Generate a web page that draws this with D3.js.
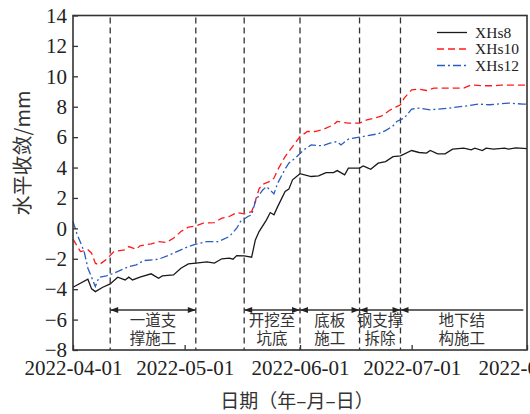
<!DOCTYPE html>
<html>
<head>
<meta charset="utf-8">
<script src="https://cdn.jsdelivr.net/npm/d3@7"></script>
<style>
  body { margin: 0; background: #fff; }
  svg { display: block; }
  .tick text { font-family: "Liberation Serif", "Times New Roman", serif; font-size: 21px; fill: #222; }
  .cn { font-family: "Noto Sans CJK SC", sans-serif; fill: #333; }
</style>
</head>
<body>
<div id="chart"></div>
<script>
// monitoring data
var dates8 = ["2022-04-01","2022-04-05","2022-04-06","2022-04-07","2022-04-09","2022-04-11","2022-04-13","2022-04-15","2022-04-16","2022-04-17","2022-04-19","2022-04-22","2022-04-24","2022-04-25","2022-04-28","2022-04-30","2022-05-02","2022-05-04","2022-05-07","2022-05-09","2022-05-11","2022-05-13","2022-05-14","2022-05-15","2022-05-17","2022-05-19","2022-05-20","2022-05-21","2022-05-23","2022-05-24","2022-05-25","2022-05-26","2022-05-28","2022-05-29","2022-05-30","2022-06-01","2022-06-04","2022-06-06","2022-06-08","2022-06-10","2022-06-11","2022-06-13","2022-06-14","2022-06-17","2022-06-18","2022-06-19","2022-06-20","2022-06-22","2022-06-24","2022-06-26","2022-06-28","2022-07-01","2022-07-03","2022-07-05","2022-07-06","2022-07-08","2022-07-10","2022-07-12","2022-07-15","2022-07-17","2022-07-18","2022-07-20","2022-07-21","2022-07-23","2022-07-26","2022-07-27","2022-07-29","2022-08-01"];
var values8 = [-3.87,-3.34,-3.98,-4.16,-3.87,-3.65,-3.21,-3.39,-3.21,-3.39,-3.21,-2.99,-3.28,-3.13,-3.06,-2.62,-2.34,-2.29,-2.2,-2.29,-2.0,-1.96,-2.03,-1.79,-1.81,-1.9,-0.76,-0.21,0.56,1.04,0.89,1.43,2.42,2.58,3.19,3.6,3.41,3.45,3.67,3.67,3.8,3.52,3.96,3.96,4.11,4.0,3.89,4.29,4.39,4.72,4.77,5.12,4.99,4.95,5.12,4.9,4.9,5.21,5.28,5.16,5.28,5.12,5.28,5.21,5.28,5.21,5.3,5.25];

var dates10 = ["2022-04-01","2022-04-03","2022-04-05","2022-04-06","2022-04-07","2022-04-08","2022-04-10","2022-04-12","2022-04-15","2022-04-16","2022-04-18","2022-04-19","2022-04-22","2022-04-24","2022-04-26","2022-04-28","2022-04-30","2022-05-02","2022-05-04","2022-05-06","2022-05-09","2022-05-11","2022-05-13","2022-05-15","2022-05-17","2022-05-19","2022-05-20","2022-05-21","2022-05-22","2022-05-24","2022-05-25","2022-05-26","2022-05-28","2022-05-30","2022-06-01","2022-06-03","2022-06-05","2022-06-07","2022-06-10","2022-06-11","2022-06-14","2022-06-17","2022-06-19","2022-06-21","2022-06-23","2022-06-25","2022-06-27","2022-06-28","2022-06-29","2022-07-01","2022-07-03","2022-07-05","2022-07-07","2022-07-10","2022-07-12","2022-07-15","2022-07-17","2022-07-20","2022-07-23","2022-07-25","2022-07-28","2022-07-31","2022-08-01"];
var values10 = [-0.71,-1.53,-1.41,-1.63,-2.29,-2.4,-2.03,-1.53,-1.41,-1.2,-1.37,-1.15,-1.02,-0.87,-0.93,-0.65,-0.21,0.08,0.16,0.34,0.38,0.67,0.78,1.04,0.95,1.1,1.8,2.6,2.9,3.1,3.3,3.85,4.72,5.38,6.04,6.37,6.37,6.48,6.81,7.03,6.92,6.92,7.14,7.25,7.4,7.75,8.01,8.13,8.57,9.11,9.16,9.07,9.22,9.22,9.22,9.22,9.44,9.38,9.38,9.42,9.42,9.42,9.42];

var dates12 = ["2022-04-01","2022-04-02","2022-04-04","2022-04-05","2022-04-07","2022-04-08","2022-04-10","2022-04-12","2022-04-14","2022-04-16","2022-04-18","2022-04-20","2022-04-24","2022-04-27","2022-04-30","2022-05-02","2022-05-04","2022-05-07","2022-05-10","2022-05-13","2022-05-15","2022-05-16","2022-05-18","2022-05-19","2022-05-20","2022-05-21","2022-05-22","2022-05-23","2022-05-25","2022-05-26","2022-05-28","2022-05-29","2022-05-31","2022-06-02","2022-06-04","2022-06-07","2022-06-09","2022-06-11","2022-06-12","2022-06-14","2022-06-17","2022-06-19","2022-06-22","2022-06-24","2022-06-26","2022-06-27","2022-06-29","2022-07-01","2022-07-03","2022-07-06","2022-07-08","2022-07-11","2022-07-13","2022-07-16","2022-07-19","2022-07-22","2022-07-24","2022-07-27","2022-07-31","2022-08-01"];
var values12 = [0.45,-0.32,-1.53,-2.62,-3.83,-3.21,-3.13,-2.95,-2.73,-2.51,-2.4,-2.12,-2.03,-1.74,-1.41,-1.2,-1.04,-0.87,-0.87,-0.54,0.01,0.45,0.78,0.89,1.75,2.2,2.53,2.75,2.27,2.97,3.9,4.29,4.68,5.16,5.49,5.43,5.6,5.71,5.49,5.87,6.0,6.09,6.22,6.43,6.74,7.03,7.25,7.84,7.91,7.8,7.84,7.91,7.97,8.06,8.17,8.13,8.17,8.24,8.17,8.17];

var seriesNames = ["XHs8", "XHs10", "XHs12"];
var monthTicks = ["2022-04-01", "2022-05-01", "2022-06-01", "2022-07-01", "2022-08-01"];
var yTicks = [-8, -6, -4, -2, 0, 2, 4, 6, 8, 10, 12, 14];

// construction stages
var stageLines = ["2022-04-11", "2022-05-04", "2022-05-17", "2022-06-01", "2022-06-17", "2022-06-28"];
var stageStart = ["2022-04-11", "2022-05-17", "2022-06-01", "2022-06-17", "2022-06-28"];
var stageEnd   = ["2022-05-04", "2022-06-01", "2022-06-17", "2022-06-28", "2022-07-31"];
var stageLabel = [["一道支", "撑施工"], ["开挖至", "坑底"], ["底板", "施工"], ["钢支撑", "拆除"], ["地下结", "构施工"]];

var parse = d3.timeParse("%Y-%m-%d");

var width = 530, height = 414,
    plotLeft = 73, plotRight = 527, plotTop = 15.5, plotBottom = 350;

var x = d3.scaleTime()
    .domain([parse("2022-04-01"), parse("2022-08-01")])
    .range([plotLeft, plotRight]);

var y = d3.scaleLinear()
    .domain([-8, 14])
    .range([plotBottom, plotTop]);

var svg = d3.select("#chart").append("svg")
    .attr("width", width)
    .attr("height", height);

// stage dividers
svg.append("g").selectAll("line")
    .data(stageLines)
    .enter().append("line")
    .attr("x1", function(d) { return x(parse(d)); })
    .attr("x2", function(d) { return x(parse(d)); })
    .attr("y1", plotTop + 2)
    .attr("y2", plotBottom)
    .attr("stroke", "#333")
    .attr("stroke-width", 1.3)
    .attr("stroke-dasharray", "6,4");

// series lines
var styles = [
    { color: "#1a1a1a", dash: null },
    { color: "#ff1a1a", dash: "7,4" },
    { color: "#2b5cbf", dash: "8,3,2,3" }
];
var allSeries = [
    d3.zip(dates8, values8),
    d3.zip(dates10, values10),
    d3.zip(dates12, values12)
];

var line = d3.line()
    .x(function(d) { return x(parse(d[0])); })
    .y(function(d) { return y(d[1]); });

svg.append("g").selectAll("path")
    .data(allSeries)
    .enter().append("path")
    .attr("fill", "none")
    .attr("stroke", function(d, i) { return styles[i].color; })
    .attr("stroke-width", 1.3)
    .attr("stroke-dasharray", function(d, i) { return styles[i].dash; })
    .attr("d", line);

// stage arrows and labels
var arrowY = 310;
var stage = svg.append("g").selectAll("g")
    .data(stageStart)
    .enter().append("g");

stage.append("line")
    .attr("x1", function(d) { return x(parse(d)); })
    .attr("x2", function(d, i) { return x(parse(stageEnd[i])); })
    .attr("y1", arrowY).attr("y2", arrowY)
    .attr("stroke", "#333")
    .attr("stroke-width", 1.3);

stage.append("path")
    .attr("fill", "#222")
    .attr("d", function(d) {
        var x0 = x(parse(d));
        return "M" + x0 + "," + arrowY + "L" + (x0 + 8) + "," + (arrowY - 3) + "L" + (x0 + 8) + "," + (arrowY + 3) + "Z";
    });

stage.filter(function(d, i) { return i < stageStart.length - 1; })
    .append("path")
    .attr("fill", "#222")
    .attr("d", function(d, i) {
        var x1 = x(parse(stageEnd[i]));
        return "M" + x1 + "," + arrowY + "L" + (x1 - 8) + "," + (arrowY - 3) + "L" + (x1 - 8) + "," + (arrowY + 3) + "Z";
    });

stage.each(function(d, i) {
    var cx = (x(parse(d)) + x(parse(stageEnd[i]))) / 2;
    d3.select(this).selectAll("text")
        .data(stageLabel[i])
        .enter().append("text")
        .attr("class", "cn")
        .attr("x", cx)
        .attr("y", function(t, j) { return 326 + j * 18; })
        .attr("text-anchor", "middle")
        .style("font-size", "15.5px")
        .text(function(t) { return t; });
});

// axes
svg.append("g")
    .attr("transform", "translate(0," + plotBottom + ")")
    .call(d3.axisBottom(x)
        .tickValues(monthTicks.map(parse))
        .tickFormat(d3.timeFormat("%Y-%m-%d"))
        .tickSize(-5)
        .tickSizeOuter(0)
        .tickPadding(10));

svg.append("g")
    .attr("transform", "translate(" + plotLeft + ",0)")
    .call(d3.axisLeft(y)
        .tickValues(yTicks)
        .tickSize(-5)
        .tickSizeOuter(0)
        .tickPadding(6));

svg.selectAll(".domain").remove();
svg.selectAll(".tick line").attr("stroke", "#333").attr("stroke-width", 1.3);

// frame
svg.append("rect")
    .attr("x", plotLeft).attr("y", plotTop)
    .attr("width", plotRight - plotLeft).attr("height", plotBottom - plotTop)
    .attr("fill", "none")
    .attr("stroke", "#333")
    .attr("stroke-width", 1.6);

// legend
var legend = svg.append("g").selectAll("g")
    .data(seriesNames)
    .enter().append("g")
    .attr("transform", function(d, i) { return "translate(437," + (32.5 + i * 16.5) + ")"; });

legend.append("line")
    .attr("x1", 0).attr("x2", 30)
    .attr("stroke", function(d, i) { return styles[i].color; })
    .attr("stroke-width", 1.3)
    .attr("stroke-dasharray", function(d, i) { return styles[i].dash; });

legend.append("text")
    .attr("x", 38)
    .attr("dy", "0.35em")
    .style("font-family", "'Liberation Serif', 'Times New Roman', serif")
    .style("font-size", "15.5px")
    .attr("fill", "#222")
    .text(function(d) { return d; });

// axis titles
svg.append("text")
    .attr("class", "cn")
    .attr("transform", "translate(23,153) rotate(-90)")
    .attr("text-anchor", "middle")
    .attr("dy", "0.35em")
    .style("font-size", "20px")
    .text("水平收敛/mm");

svg.append("text")
    .attr("class", "cn")
    .attr("x", 297)
    .attr("y", 401)
    .attr("text-anchor", "middle")
    .attr("dy", "0.35em")
    .style("font-size", "19px")
    .text("日期（年–月–日）");
</script>
</body>
</html>
